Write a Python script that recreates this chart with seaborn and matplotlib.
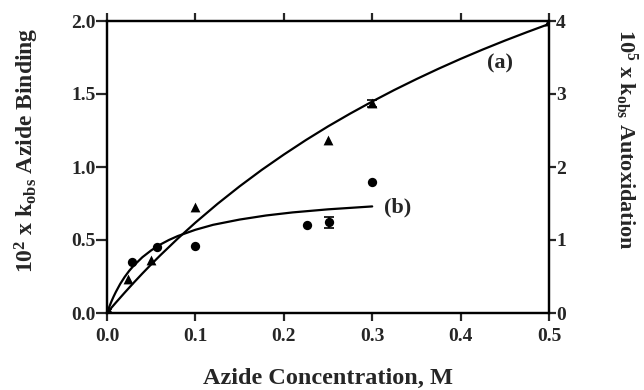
import matplotlib
matplotlib.use("Agg")
import matplotlib.pyplot as plt
import seaborn as sns
import pandas as pd

# ---- data ----
# (b) azide binding (left axis, 10^2 x k_obs)
bind_x = [0.0, 0.028, 0.057, 0.100, 0.226, 0.251, 0.300]
bind_y = [0.0, 0.35, 0.45, 0.46, 0.60, 0.62, 0.90]
bind_err_x = [0.0, 0.251]
bind_err_y = [0.0, 0.62]
bind_err = [0.03, 0.04]
bind_fit_x = [0.0, 0.0025, 0.005, 0.0075, 0.01, 0.015, 0.02, 0.025, 0.03, 0.04, 0.05,
              0.06, 0.07, 0.08, 0.10, 0.12, 0.15, 0.18, 0.21, 0.25, 0.30]
bind_fit_y = [0.0, 0.041, 0.079, 0.113, 0.144, 0.200, 0.247, 0.288, 0.323, 0.382, 0.429,
              0.468, 0.500, 0.527, 0.570, 0.604, 0.640, 0.668, 0.689, 0.710, 0.730]

# (a) autoxidation (right axis, 10^5 x k_obs)
auto_x = [0.0, 0.024, 0.050, 0.100, 0.250, 0.300, 0.500]
auto_y = [0.0, 0.46, 0.73, 1.45, 2.37, 2.87, 4.00]
auto_err_x = [0.300]
auto_err_y = [2.87]
auto_err = [0.05]
auto_fit_x = [0.0, 0.005, 0.01, 0.02, 0.03, 0.04, 0.05, 0.06, 0.08, 0.10, 0.125, 0.15,
              0.175, 0.20, 0.225, 0.25, 0.275, 0.30, 0.325, 0.35, 0.375, 0.40, 0.425,
              0.45, 0.475, 0.50]
auto_fit_y = [0.0, 0.072, 0.142, 0.279, 0.412, 0.541, 0.666, 0.787, 1.019, 1.238, 1.495,
              1.735, 1.960, 2.170, 2.369, 2.556, 2.731, 2.897, 3.055, 3.204, 3.346,
              3.481, 3.609, 3.731, 3.847, 3.959]

x_ticks = [0.0, 0.1, 0.2, 0.3, 0.4, 0.5]
left_ticks = [0.0, 0.5, 1.0, 1.5, 2.0]
right_ticks = [0, 1, 2, 3, 4]

sns.set_style("ticks")
plt.rcParams["font.family"] = ["Liberation Serif", "DejaVu Serif"]
plt.rcParams["font.weight"] = "bold"
plt.rcParams["axes.labelweight"] = "bold"
plt.rcParams["mathtext.fontset"] = "custom"
plt.rcParams["mathtext.rm"] = "Liberation Serif:bold"
plt.rcParams["mathtext.it"] = "Liberation Serif:bold"
plt.rcParams["mathtext.bf"] = "Liberation Serif:bold"

fig = plt.figure(figsize=(6.44, 3.90), dpi=100)
ax = fig.add_axes([107 / 644, 1 - 313 / 390, (549 - 107) / 644, (313 - 21) / 390])
ax2 = ax.twinx()

bind_df = pd.DataFrame({"x": bind_x, "y": bind_y})
bind_fit = pd.DataFrame({"x": bind_fit_x, "y": bind_fit_y})
auto_df = pd.DataFrame({"x": auto_x, "y": auto_y})
auto_fit = pd.DataFrame({"x": auto_fit_x, "y": auto_fit_y})

sns.lineplot(data=bind_fit, x="x", y="y", ax=ax, color="black", lw=1.6, sort=False)
sns.scatterplot(data=bind_df, x="x", y="y", ax=ax, color="black", marker="o", s=45,
                edgecolor="black", linewidth=0, zorder=5)
ax.errorbar(bind_err_x, bind_err_y, yerr=bind_err, fmt="none", ecolor="black",
            elinewidth=1.2, capsize=3.5, capthick=1.2, zorder=4)

sns.lineplot(data=auto_fit, x="x", y="y", ax=ax2, color="black", lw=1.6, sort=False)
sns.scatterplot(data=auto_df, x="x", y="y", ax=ax2, color="black", marker="^", s=50,
                edgecolor="black", linewidth=0, zorder=5)
ax2.errorbar(auto_err_x, auto_err_y, yerr=auto_err, fmt="none", ecolor="black",
             elinewidth=1.2, capsize=3.5, capthick=1.2, zorder=4)

ax.set_xlim(0, 0.5)
ax.set_ylim(0, 2.0)
ax2.set_ylim(0, 4.0)
ax.set_xticks(x_ticks)
ax.set_xticklabels([f"{v:.1f}" for v in x_ticks])
ax.set_yticks(left_ticks)
ax.set_yticklabels([f"{v:.1f}" for v in left_ticks])
ax2.set_yticks(right_ticks)
ax2.set_yticklabels([str(v) for v in right_ticks])

for a in (ax, ax2):
    for s in a.spines.values():
        s.set_visible(True)
        s.set_linewidth(1.6)
        s.set_color("black")

ax.tick_params(axis="x", which="both", direction="out", length=6, width=1.6,
               labelsize=14, pad=5, top=True, labeltop=False)
ax.tick_params(axis="y", direction="out", length=8, width=1.6, labelsize=14, pad=0)
ax2.tick_params(axis="y", direction="out", length=5, width=1.6, labelsize=14, pad=0)
for lab in ax.get_xticklabels() + ax.get_yticklabels() + ax2.get_yticklabels():
    lab.set_fontweight("bold")

ax.set_xlabel("Azide Concentration, M", fontsize=17.5, fontweight="bold", labelpad=16)
ax.set_ylabel(r"$10^2$ x k$_{\mathrm{obs}}$ Azide Binding", fontsize=17,
              fontweight="bold")
ax2.set_ylabel(r"$10^5$ x k$_{\mathrm{obs}}$ Autoxidation", fontsize=16,
               fontweight="bold", rotation=270)
ax.yaxis.set_label_coords((27 - 107) / 442, (313 - 150) / 292)
ax.yaxis.label.set_verticalalignment("center")
ax2.yaxis.set_label_coords((626 - 107) / 442, (313 - 139) / 292)
ax2.yaxis.label.set_verticalalignment("center")

ax.text(0.4446, 1.71, "(a)", fontsize=16, fontweight="bold", ha="center", va="center")
ax.text(0.329, 0.72, "(b)", fontsize=16, fontweight="bold", ha="center", va="center")

fig.savefig("out.png", dpi=100)
